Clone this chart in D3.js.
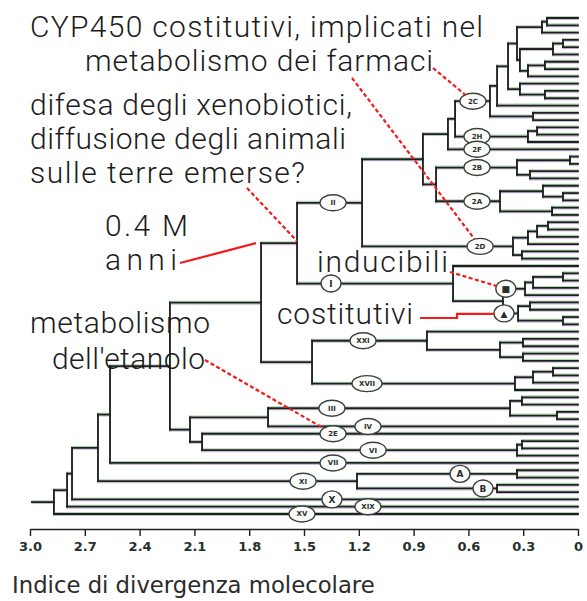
<!DOCTYPE html>
<html>
<head>
<meta charset="utf-8">
<script src="https://cdn.jsdelivr.net/npm/d3@7"></script>
<style>
  html, body { margin: 0; padding: 0; background: #fff; }
  svg { display: block; }
</style>
</head>
<body>
<svg id="chart" width="587" height="601"></svg>
<script>
// ---------------------------------------------------------------
// Tree data. Clades are written as "(child,child)name@height":
// height = molecular divergence index of the branching point,
// "-" is an unnamed leaf, a bare word is a named leaf.
// ---------------------------------------------------------------
const cladeA6  = "((-,-)@0.170,-)@0.197";
const cladeA9  = "((-,-)@0.082,-)@0.137";
const cladeA11 = "((-,-)@0.181,-)@0.274";
const cladeA12 = "(-,(-,-)@0.181)@0.318";
const cladeC2  = "((((" + cladeA6 + ",(" + cladeA9 + "," + cladeA11 + ")@0.318)@0.334," + cladeA12 + ")@0.383,-)@0.443,(-,-)@0.246)c2@0.482";
const cladeH2  = "((-,-)@0.224,-)h2@0.274";
const cladeB2  = "((-,-)@0.044,(-,-)@0.263)b2@0.334";
const cladeA2  = "((-,(-,-)@0.082)@0.192,(-,-)@0.142)a2@0.427";
const cladeD2  = "((((-,-)@0.164,-)@0.224,-)@0.274,(-,-)@0.307)d2@0.356";
const cladeII  = "((((" + cladeC2 + "," + cladeH2 + ")@0.673,f2)@0.712,(" + cladeB2 + "," + cladeA2 + ")@0.777)@0.849," + cladeD2 + ")ii@1.182";
const cladeSq  = "(((-,-)@0.082,-)@0.246,-)sq@0.290";
const cladeTr  = "((-,-)@0.263,(-,-)@0.082)tr@0.328";
const cladeI   = "(-,(" + cladeSq + "," + cladeTr + ")@0.411)i@0.684";
const cladeXXI = "(-,((-,-)@0.301,(-,-)@0.301)@0.427)xxi@0.827";
const cladeXVII= "(((-,-)@0.137,-)@0.246,-)xvii@0.345";
const cladeK   = "((" + cladeII + "," + cladeI + ")gl@1.538,(" + cladeXXI + "," + cladeXVII + ")@1.456)k@1.735";
const cladeIII = "((-,-)@0.307,(-,-)@0.115)iii@0.372";
const cladeVI  = "((-,-)@0.307,-)vi@0.334";
const cladeG   = "((" + cladeIII + ",iv)@1.697,(e2," + cladeVI + ")@2.058)@2.124";
const cladeXI  = "((-,-)A@0.334,(-,-)B@0.443)xi@1.210";
const treeSpec = "((((((" + cladeK + "," + cladeG + ")@2.234,vii)@2.562," + cladeXI + ")@2.628,x)@2.770,xix)@2.797,xv)@2.869";
const rootStemStart = 2.99;

// Family tags drawn in ovals on the branches
const ovalBranches = ["c2", "h2", "f2", "b2", "a2", "d2", "ii", "i", "sq", "tr", "xxi", "xvii", "iii", "iv", "e2", "vi", "vii", "xi", "A", "B", "x", "xix", "xv"];
const ovalAt       = [0.575, 0.553, 0.553, 0.553, 0.553, 0.536, 1.341, 1.352, 0.395, 0.405, 1.177, 1.155, 1.347, 1.150, 1.341, 1.122, 1.341, 1.505, 0.646, 0.520, 1.347, 1.150, 1.511];
const ovalTags     = ["2C", "2H", "2F", "2B", "2A", "2D", "II", "I", "\u25A0", "\u25B2", "XXI", "XVII", "III", "IV", "2E", "VI", "VII", "XI", "A", "B", "X", "XIX", "XV"];

// Axis
const tickValues = [3.0, 2.7, 2.4, 2.1, 1.8, 1.5, 1.2, 0.9, 0.6, 0.3, 0];
const tickLabels = ["3.0", "2.7", "2.4", "2.1", "1.8", "1.5", "1.2", "0.9", "0.6", "0.3", "0"];
const axisTitle  = "Indice di divergenza molecolare";

// Annotation texts (layout: left, right, baseline in px)
const notes = [
  { text: "CYP450 costitutivi, implicati nel", x0: 30,  x1: 483, base: 37 },
  { text: "metabolismo dei farmaci",            x0: 85,  x1: 433, base: 71 },
  { text: "difesa degli xenobiotici,",          x0: 30,  x1: 352, base: 115 },
  { text: "diffusione degli animali",           x0: 30,  x1: 346, base: 149 },
  { text: "sulle terre emerse?",                x0: 30,  x1: 305, base: 183 },
  { text: "0.4 M",                              x0: 105, x1: 188, base: 236 },
  { text: "anni",                               x0: 105, x1: 177, base: 270 },
  { text: "inducibili",                         x0: 317, x1: 448, base: 272 },
  { text: "costitutivi",                        x0: 277, x1: 413, base: 324 },
  { text: "metabolismo",                        x0: 30,  x1: 210, base: 333 },
  { text: "dell'etanolo",                       x0: 52,  x1: 205, base: 369 }
];
// Leader lines: start point near a text, end at an oval or a node
const leaders = [
  { from: [433, 68],  oval: "c2", dashed: true },
  { from: [352, 78],  oval: "d2", dashed: true },
  { from: [247, 188], node: "gl", dashed: true },
  { from: [180, 263], node: "k", atChild: "gl", dashed: false },
  { from: [450, 272], oval: "sq", dashed: true },
  { from: [420, 318], oval: "tr", dashed: false, step: true },
  { from: [205, 360], oval: "e2", dashed: true }
];

// ---------------------------------------------------------------
function parseTree(s) {
  let i = 0;
  function node() {
    const n = { children: [] };
    if (s[i] === "(") {
      i++;
      n.children.push(node());
      while (s[i] === ",") { i++; n.children.push(node()); }
      i++; // closing bracket
    }
    let lab = "";
    while (i < s.length && !",()".includes(s[i])) lab += s[i++];
    const parts = lab.split("@");
    n.name = parts[0] && parts[0] !== "-" ? parts[0] : null;
    n.height = parts.length > 1 ? +parts[1] : 0;
    if (!n.children.length) delete n.children;
    return n;
  }
  return node();
}

const svg = d3.select("#chart");
const root = d3.hierarchy(parseTree(treeSpec));
const leaves = root.leaves();

const x = d3.scaleLinear().domain([3, 0]).range([30, 578]);
const y = d3.scalePoint().domain(d3.range(leaves.length)).range([18, 514]);

leaves.forEach((d, i) => { d.py = y(i); });
root.eachAfter(d => {
  if (d.children) d.py = (d.children[0].py + d.children[d.children.length - 1].py) / 2;
  d.px = x(d.data.height);
});
const byName = {};
root.each(d => { if (d.data.name) byName[d.data.name] = d; });

// Segment list for the elbow dendrogram
const segs = [];
root.each(d => {
  if (!d.children) return;
  const first = d.children[0], last = d.children[d.children.length - 1];
  segs.push([d.px, first.py, d.px, last.py]);
  d.children.forEach(c => segs.push([d.px, c.py, c.px, c.py]));
});
segs.push([x(rootStemStart), root.py, root.px, root.py]);

// Tree lines, with the coloured fringes of the print
const tree = svg.append("g");
[["#a6cda2", -1.3, 1.3, 0.85], ["#c4abd8", 1.3, 1.3, 0.85], ["#1b211d", 0, 1.8, 1]].forEach(([col, dy, w, op]) => {
  tree.append("g")
    .attr("transform", `translate(0,${dy})`)
    .selectAll("line").data(segs).join("line")
    .attr("x1", d => d[0]).attr("y1", d => d[1])
    .attr("x2", d => d[2]).attr("y2", d => d[3])
    .attr("stroke", col).attr("stroke-width", w).attr("stroke-opacity", op)
    .attr("stroke-linecap", "square");
});

// Ovals
const ovals = ovalBranches.map((b, i) => {
  const small = ovalTags[i].length === 1;
  return { name: b, cx: x(ovalAt[i]), cy: byName[b].py, tag: ovalTags[i],
           rx: small ? 10 : (ovalTags[i].length > 3 ? 15 : 13), ry: small ? 8.5 : 8 };
});
const ovalByName = {};
ovals.forEach(o => { ovalByName[o.name] = o; });
const og = svg.append("g").selectAll("g").data(ovals).join("g")
  .attr("transform", d => `translate(${d.cx},${d.cy})`);
og.append("ellipse").attr("rx", d => d.rx).attr("ry", d => d.ry)
  .attr("fill", "#fbfdfb").attr("stroke", "#3b403c").attr("stroke-width", 1.4);
og.append("text").text(d => d.tag)
  .attr("text-anchor", "middle").attr("dy", "0.35em")
  .attr("font-family", "DejaVu Sans, sans-serif").attr("font-weight", "bold")
  .attr("font-size", d => d.tag.length === 1 ? 9 : 7).attr("fill", "#2a2e2b");

// Leader lines in red
const lg = svg.append("g");
leaders.forEach(L => {
  const [sx, sy] = L.from;
  let ex, ey;
  if (L.oval) {
    const o = ovalByName[L.oval];
    const dx = sx - o.cx, dy = sy - o.cy;
    const f = 1 / Math.sqrt((dx / o.rx) ** 2 + (dy / o.ry) ** 2);
    ex = o.cx + dx * f; ey = o.cy + dy * f;
  } else {
    const n = byName[L.node];
    ex = n.px - (L.atChild ? 5 : 0);
    ey = L.atChild ? byName[L.atChild].py : n.py - 2;
  }
  let pts = [[sx, sy], [ex, ey]];
  if (L.step) {
    const mx = (sx + ex) / 2;
    pts = [[sx, sy], [mx, sy], [mx, ey], [ex, ey]];
  }
  lg.append("path")
    .attr("d", d3.line()(pts))
    .attr("fill", "none").attr("stroke", "#f21a1a").attr("stroke-width", 2.2)
    .attr("stroke-dasharray", L.dashed ? "4,2.5" : null);
});

// Annotation texts: near-uniform size, spacing stretched to each line's width
const ng = svg.append("g");
notes.forEach(n => {
  const t = ng.append("text").text(n.text)
    .attr("x", n.x0).attr("y", n.base)
    .attr("font-family", "Roboto, 'Liberation Sans', sans-serif")
    .attr("font-weight", 300).attr("font-size", 30).attr("fill", "#1c1c1c");
  const w = t.node().getComputedTextLength();
  const fs = Math.max(26, Math.min(30, 30 * (n.x1 - n.x0) / w));
  t.attr("font-size", fs)
    .attr("textLength", n.x1 - n.x0)
    .attr("lengthAdjust", "spacing");
});

// Axis
const axisY = 529;
const ax = svg.append("g").attr("transform", `translate(0,${axisY})`)
  .call(d3.axisBottom(x).tickValues(tickValues).tickFormat((d, i) => tickLabels[i]).tickSize(7).tickSizeOuter(0));
ax.select(".domain").attr("stroke", "#1b211d").attr("stroke-width", 1.6);
ax.selectAll(".tick line").attr("stroke", "#1b211d").attr("stroke-width", 1.4);
ax.selectAll(".tick text")
  .attr("y", 13).attr("dy", "0.71em")
  .attr("font-family", "DejaVu Sans, sans-serif").attr("font-weight", "bold")
  .attr("font-size", 13).attr("fill", "#26302a");

const title = svg.append("text").text(axisTitle)
  .attr("x", 12).attr("y", 593)
  .attr("font-family", "DejaVu Sans, Verdana, sans-serif")
  .attr("font-size", 20).attr("fill", "#2b2b2b");
const tw = title.node().getComputedTextLength();
title.attr("font-size", 20 * 363 / tw);
</script>
</body>
</html>
